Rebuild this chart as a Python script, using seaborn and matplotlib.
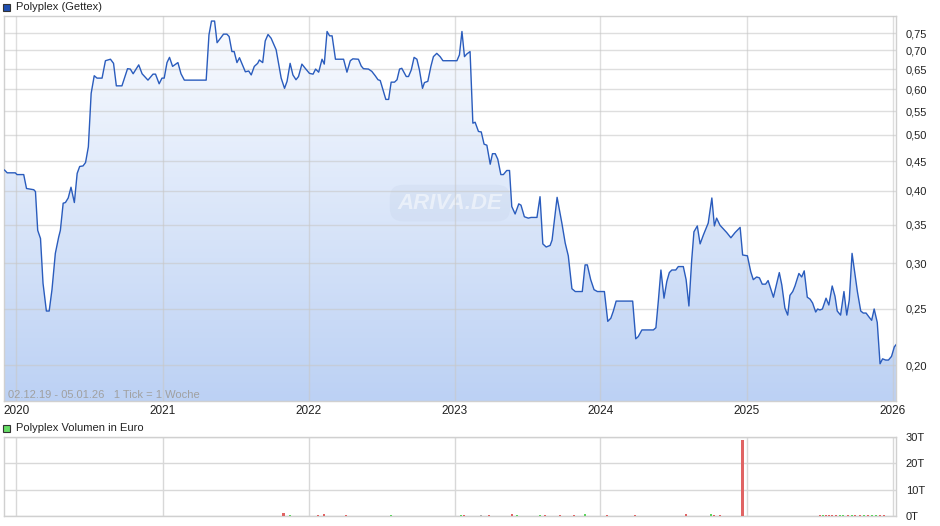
import numpy as np
import pandas as pd
import matplotlib
matplotlib.use("Agg")
import matplotlib.pyplot as plt
import seaborn as sns
from matplotlib.colors import LinearSegmentedColormap
from matplotlib.patches import Rectangle
from matplotlib.ticker import FixedLocator, NullLocator, FuncFormatter

# --- data (weeks since 02.12.2019, price in EUR) ---
start_date = "2019-12-02"

price_weeks = [
    0.0, 1.0, 3.9, 4.5, 6.9, 7.9, 10.5, 11.1, 11.9, 12.9, 13.8, 15.0, 16.0, 17.0,
    18.2, 19.4, 20.0, 21.0, 21.8, 22.8, 23.8, 25.0, 26.0, 26.9, 28.1, 29.0, 30.0,
    31.0, 32.1, 33.1, 34.9, 36.1, 37.9, 39.0, 40.0, 42.0, 42.9, 44.0, 45.0, 46.0,
    48.0, 49.2, 51.3, 53.1, 54.0, 55.3, 56.3, 57.1, 58.1, 59.0, 60.1, 62.0, 63.1,
    64.3, 72.1, 73.1, 74.0, 75.1, 76.0, 78.3, 79.5, 80.3, 81.3, 82.1, 83.1, 84.0,
    86.1, 87.3, 88.2, 89.3, 90.5, 91.1, 92.3, 93.2, 94.2, 95.3, 97.1, 98.9, 100.1,
    101.0, 102.1, 103.1, 104.2, 105.1, 106.3, 107.5, 109.0, 110.3, 111.2, 112.3,
    113.5, 114.3, 115.3, 116.2, 117.1, 118.3, 121.2, 122.4, 123.6, 124.5, 126.5,
    127.5, 128.3, 130.1, 131.3, 132.5, 133.5, 134.3, 135.3, 136.3, 137.3, 138.2,
    139.4, 140.3, 141.2, 142.0, 143.6, 144.4, 145.4, 146.4, 147.4, 148.3, 149.4,
    150.1, 151.3, 152.4, 153.3, 154.5, 155.7, 156.7, 161.7, 162.6, 163.5, 164.4,
    165.2, 166.4, 167.4, 168.2, 169.4, 170.4, 171.4, 172.4, 173.6, 174.4, 175.4,
    176.3, 177.4, 178.3, 179.5, 180.5, 181.3, 182.5, 183.8, 184.6, 185.8, 187.2,
    188.2, 190.3, 191.4, 192.4, 193.6, 195.0, 195.7, 197.5, 199.2, 200.4, 201.5,
    202.8, 204.0, 206.5, 207.5, 208.3, 209.5, 210.7, 211.9, 214.4, 215.6, 216.7,
    217.6, 218.6, 224.5, 225.6, 226.5, 227.8, 231.9, 232.8, 233.7, 234.6, 235.7,
    236.7, 237.6, 238.5, 239.9, 240.8, 242.6, 243.6, 244.6, 245.6, 246.4, 247.6,
    248.6, 249.8, 251.5, 252.8, 253.7, 254.5, 255.7, 258.1, 259.6, 261.1, 262.9,
    263.8, 265.5, 266.7, 267.6, 268.8, 269.8, 270.8, 272.0, 272.9, 274.8, 276.9,
    277.8, 278.9, 279.9, 280.7, 281.7, 282.5, 283.9, 284.9, 285.8, 286.9, 287.9,
    288.8, 289.9, 290.6, 291.4, 292.3, 293.6, 294.6, 295.8, 296.8, 297.6, 298.8,
    300.0, 301.0, 301.9, 302.9, 303.9, 304.8, 306.0, 306.9, 307.9, 309.0, 309.9,
    310.8, 311.9, 312.9, 313.8, 314.9, 315.9, 317.0, 318.0, 319.0,
]
price_values = [
    0.435, 0.430, 0.430, 0.427, 0.427, 0.404, 0.402, 0.399, 0.342, 0.331, 0.277, 0.248, 0.248, 0.270,
    0.312, 0.333, 0.342, 0.381, 0.382, 0.389, 0.406, 0.382, 0.429, 0.441, 0.442, 0.448, 0.477,
    0.590, 0.633, 0.627, 0.627, 0.672, 0.676, 0.665, 0.608, 0.608, 0.627, 0.651, 0.650, 0.638,
    0.661, 0.638, 0.622, 0.637, 0.637, 0.613, 0.627, 0.627, 0.667, 0.681, 0.657, 0.667, 0.638,
    0.622, 0.622, 0.745, 0.787, 0.787, 0.722, 0.747, 0.747, 0.740, 0.697, 0.697, 0.667, 0.680,
    0.643, 0.645, 0.635, 0.657, 0.665, 0.674, 0.667, 0.727, 0.746, 0.735, 0.702, 0.627, 0.602,
    0.619, 0.665, 0.635, 0.623, 0.631, 0.663, 0.652, 0.639, 0.637, 0.650, 0.642,
    0.676, 0.663, 0.755, 0.742, 0.742, 0.676, 0.676, 0.642, 0.672, 0.677, 0.676,
    0.658, 0.651, 0.650, 0.644, 0.633, 0.623, 0.621, 0.598, 0.576, 0.576, 0.617,
    0.617, 0.623, 0.650, 0.652, 0.631, 0.631, 0.648, 0.681, 0.676, 0.648, 0.602,
    0.616, 0.619, 0.657, 0.683, 0.692, 0.683, 0.672, 0.672, 0.688, 0.755, 0.683,
    0.690, 0.697, 0.524, 0.526, 0.507, 0.506, 0.482, 0.480, 0.445, 0.464, 0.464,
    0.454, 0.427, 0.427, 0.434, 0.434, 0.376, 0.365, 0.380, 0.378, 0.361, 0.359,
    0.360, 0.360, 0.391, 0.324, 0.320, 0.322, 0.329, 0.390, 0.352, 0.325, 0.309,
    0.271, 0.268, 0.268, 0.298, 0.298, 0.281, 0.270, 0.268, 0.268, 0.238, 0.241,
    0.248, 0.258, 0.258, 0.222, 0.224, 0.230, 0.230, 0.232, 0.259, 0.292, 0.261,
    0.279, 0.289, 0.292, 0.292, 0.296, 0.296, 0.281, 0.253, 0.304, 0.340, 0.348,
    0.324, 0.336, 0.352, 0.389, 0.348, 0.359, 0.349, 0.339, 0.332, 0.339, 0.346,
    0.310, 0.309, 0.290, 0.281, 0.284, 0.283, 0.276, 0.276, 0.280, 0.262, 0.289,
    0.275, 0.251, 0.244, 0.264, 0.268, 0.274, 0.288, 0.284, 0.291, 0.262, 0.260,
    0.256, 0.247, 0.250, 0.249, 0.250, 0.261, 0.254, 0.274, 0.263, 0.248, 0.244,
    0.268, 0.244, 0.259, 0.312, 0.288, 0.268, 0.248, 0.246, 0.246, 0.242, 0.239,
    0.250, 0.237, 0.201, 0.205, 0.204, 0.204, 0.207, 0.215, 0.218,
]

# volume in thousand euro ("T"), direction: up / down / flat
volume_weeks = [
    99.8, 102.1, 112.1, 114.3, 122.1, 138.2, 163.2, 164.2, 170.4, 173.2, 181.4,
    183.1, 191.4, 193.2, 198.6, 203.6, 207.5, 215.3, 225.4, 243.6, 252.4, 253.6,
    255.7, 263.7, 291.4, 292.5, 293.6, 294.6, 295.7, 297.1, 298.6, 299.6, 301.4,
    302.9, 303.9, 305.7, 307.1, 308.6, 310.0, 311.4, 312.9, 314.3,
]
volume_values = [
    1.3, 0.4, 0.5, 0.8, 0.5, 0.5, 0.5, 0.5, 0.4, 0.5, 0.9,
    0.5, 0.5, 0.5, 0.5, 0.5, 0.9, 0.4, 0.4, 0.9, 0.8, 0.5,
    0.5, 28.9, 0.5, 0.4, 0.5, 0.4, 0.5, 0.5, 0.4, 0.5, 0.5,
    0.4, 0.5, 0.5, 0.4, 0.5, 0.4, 0.5, 0.5, 0.4,
]
volume_dir = [
    "down", "up", "down", "down", "down", "up", "up", "down", "flat", "down", "down",
    "up", "up", "down", "down", "down", "up", "down", "down", "down", "up", "down",
    "down", "down", "down", "up", "down", "down", "down", "down", "up", "up", "down",
    "up", "down", "down", "up", "down", "up", "up", "down", "down",
]

price_ticks = [0.20, 0.25, 0.30, 0.35, 0.40, 0.45, 0.50, 0.55, 0.60, 0.65, 0.70, 0.75]
year_ticks = ["2020", "2021", "2022", "2023", "2024", "2025", "2026"]
volume_ticks = [0, 10, 20, 30]

# --- build frames ---
t0 = pd.Timestamp(start_date)
df = pd.DataFrame({
    "date": t0 + pd.to_timedelta(np.array(price_weeks) * 7, unit="D"),
    "price": price_values,
})
vol = pd.DataFrame({
    "date": t0 + pd.to_timedelta(np.array(volume_weeks) * 7, unit="D"),
    "volume": volume_values,
    "dir": volume_dir,
})
dir_colors = {"up": "#5fd35f", "down": "#e06464", "flat": "#b0b0b0"}

sns.set_style("white")
plt.rcParams["font.family"] = ["Liberation Sans", "DejaVu Sans"]

W, H = 940, 526
fig = plt.figure(figsize=(W / 100, H / 100), dpi=100)
ax = fig.add_axes([4 / W, 125 / H, 892 / W, 385 / H])
axv = fig.add_axes([4 / W, 10 / H, 892 / W, 79 / H])

x_lo = t0 - pd.Timedelta(days=1)
x_hi = t0 + pd.Timedelta(days=318.6 * 7)
year_dates = [pd.Timestamp(f"{y}-01-01") for y in year_ticks]

# --- price panel ---
ax.set_yscale("log")
ax.set_xlim(x_lo, x_hi)
ax.set_ylim(0.1733, 0.803)
ax.set_autoscale_on(False)

# gradient fill under the line
poly = ax.fill_between(df["date"], df["price"], 0.1, facecolor="none", edgecolor="none")
grad = np.linspace(0, 1, 256).reshape(-1, 1)
cmap = LinearSegmentedColormap.from_list("fill", ["#fafcff", "#bcd1f4"])
im = ax.imshow(grad, extent=[0, 1, 0, 1], transform=ax.transAxes, aspect="auto",
               cmap=cmap, origin="upper", zorder=1)
im.set_clip_path(poly.get_paths()[0], transform=ax.transData)

sns.lineplot(data=df, x="date", y="price", ax=ax, color="#2a5cbd", linewidth=1.0, zorder=3)

ax.set_axisbelow(False)
ax.grid(True, color="#c8c8c8", linewidth=1, alpha=0.6, zorder=2)
ax.set_xticks(year_dates)
ax.set_xticklabels(year_ticks)
ax.yaxis.tick_right()
ax.yaxis.set_major_locator(FixedLocator(price_ticks))
ax.yaxis.set_minor_locator(NullLocator())
ax.yaxis.set_major_formatter(FuncFormatter(lambda v, p: f"{v:.2f}".replace(".", ",")))
ax.tick_params(axis="y", length=0, pad=7, labelsize=8, colors="#222222")
ax.tick_params(axis="x", length=0, pad=3, labelsize=8.5, colors="#222222")
ax.set_xlabel("")
ax.set_ylabel("")
for s in ax.spines.values():
    s.set_color("#d0d0d0")
    s.set_linewidth(1)

ax.text(0.0045, 0.016, "02.12.19 - 05.01.26   1 Tick = 1 Woche", transform=ax.transAxes,
        fontsize=8, color="#a0a0a0", va="center", ha="left", zorder=4)
ax.text(0.5, 0.514, "ARIVA.DE", transform=ax.transAxes, fontsize=16, style="italic",
        weight="bold", color=(1, 1, 1, 0.5), ha="center", va="center", zorder=2,
        bbox=dict(boxstyle="round,pad=0.35,rounding_size=0.6", fc=(0.72, 0.78, 0.88, 0.18), ec="none"))

# --- volume panel ---
axv.bar(vol["date"], vol["volume"], width=6, linewidth=0,
        color=[dir_colors[d] for d in vol["dir"]], zorder=3)
axv.set_xlim(x_lo, x_hi)
axv.set_ylim(0, 30)
axv.set_xticks(year_dates)
axv.set_xticklabels([])
axv.set_axisbelow(True)
axv.grid(True, color="#d8d8d8", linewidth=1)
axv.yaxis.tick_right()
axv.set_yticks(volume_ticks)
axv.set_yticklabels([f"{v}T" for v in volume_ticks])
axv.tick_params(axis="y", length=0, pad=7, labelsize=8, colors="#222222")
axv.tick_params(axis="x", length=0)
for s in axv.spines.values():
    s.set_color("#d0d0d0")
    s.set_linewidth(1)

# --- headers ---
fig.patches.append(Rectangle((3 / W, (H - 11) / H), 7 / W, 7 / H, transform=fig.transFigure,
                             facecolor="#1f4fb0", edgecolor="#333333", linewidth=0.8))
fig.text(16 / W, (H - 6.5) / H, "Polyplex (Gettex)", fontsize=8, va="center", ha="left", color="#222222")
fig.patches.append(Rectangle((3 / W, (H - 432) / H), 7 / W, 7 / H, transform=fig.transFigure,
                             facecolor="#66dd66", edgecolor="#333333", linewidth=0.8))
fig.text(16 / W, (H - 428) / H, "Polyplex Volumen in Euro", fontsize=8, va="center", ha="left", color="#222222")

fig.savefig("out.png", dpi=100)
